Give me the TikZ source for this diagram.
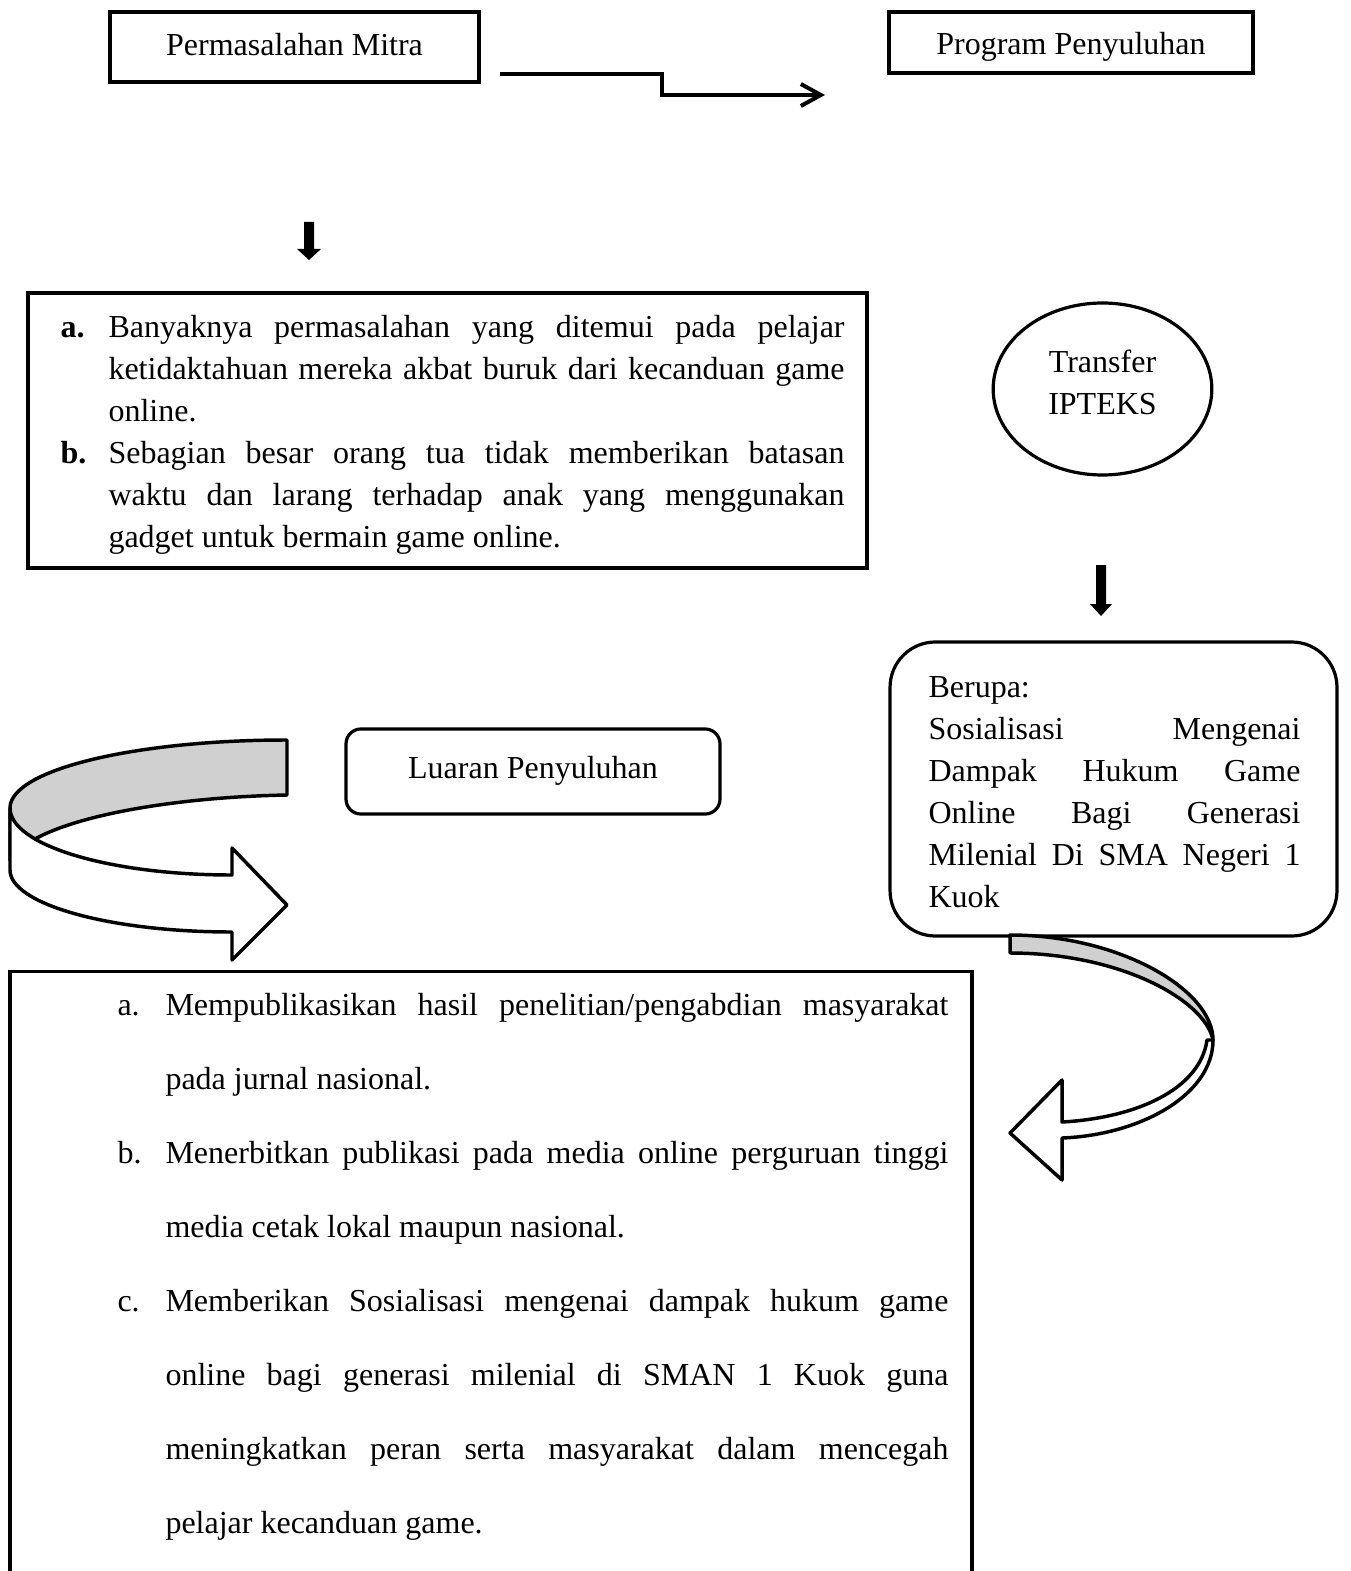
\documentclass[tikz,border=0pt]{standalone}
\usepackage{fontspec}
\setmainfont{Liberation Serif}
\usetikzlibrary{shapes.geometric,arrows.meta}
\definecolor{ribbongray}{RGB}{208,208,208}
\newcommand\myitem[1]{\par\noindent\hangindent=18pt\hangafter=1\makebox[18pt][l]{#1}}
\begin{document}
\begin{tikzpicture}[x=0.375pt,y=-0.375pt,
  every node/.style={font=\fontsize{12}{15.75}\selectfont},
  sqbox/.style={draw, line width=1.2pt, inner sep=0pt},
  rbox/.style={draw, line width=1.2pt, inner sep=0pt},
  txt/.style={inner sep=0pt},
  conn/.style={line width=1.5pt, -{Straight Barb[length=7.5pt,width=8.25pt]}},
  ribbon/.style={line width=1.3pt, line join=round}]
\clip (0,0) rectangle (1350,1571);
\fill[white] (0,0) rectangle (1350,1571);

% top boxes
\node[sqbox, minimum width=138.4pt, minimum height=26.25pt] (mitra) at (294.5,47) {};
\node[txt] (mitratxt) at (294.5,45) {Permasalahan Mitra};
\node[sqbox, minimum width=136.5pt, minimum height=22.9pt] (program) at (1071,42.5) {};
\node[txt] (programtxt) at (1071,46.5) {Program Penyuluhan};

% step connector
\coordinate (st0) at (500,74);
\coordinate (st1) at (825,95);
\draw[conn] (st0) -- (662,74) |- (st1);

% down arrow 1
\fill (304,222) -- (314,222) -- (314,249) -- (321,249) -- (309,260) -- (297,249) -- (304,249) -- cycle;

% problem box
\node[sqbox, minimum width=314.6pt, minimum height=103.1pt] (masalah) at (447.5,430.5) {};
\node[txt, anchor=base west] (masalahtxt) at (60,338) {\parbox[t]{294pt}{%
\myitem{\textbf{a.}}Banyaknya permasalahan yang ditemui pada pelajar\linebreak ketidaktahuan mereka akbat buruk dari kecanduan game\linebreak online.
\myitem{\textbf{b.}}Sebagian besar orang tua tidak memberikan batasan\linebreak waktu dan larang terhadap anak yang menggunakan\linebreak gadget untuk bermain game online.}};

% ellipse
\node[ellipse, draw, line width=1.2pt, minimum width=82pt, minimum height=64.5pt, inner sep=0pt] (ipteks) at (1102.5,389) {};
\node[txt, align=center] (ipteksTxt) at (1102.5,382) {Transfer\\IPTEKS};

% down arrow 2
\fill (1096,565) -- (1106,565) -- (1106,604) -- (1112,604) -- (1101,616) -- (1090,604) -- (1096,604) -- cycle;

% berupa box
\node[rbox, rounded corners=17pt, minimum width=167.6pt, minimum height=110.25pt] (berupa) at (1113.5,789) {};
\node[txt, anchor=base west] (berupatxt) at (928,697) {\parbox[t]{139.5pt}{Berupa:\par
Sosialisasi Mengenai\linebreak Dampak Hukum Game\linebreak Online Bagi Generasi\linebreak Milenial Di SMA Negeri 1\linebreak Kuok}};

% luaran box
\node[rbox, rounded corners=5.6pt, minimum width=140.25pt, minimum height=31.9pt] (luaran) at (533,771.5) {};
\node[txt] (luarantitle) at (533,771) {Luaran Penyuluhan};

% bottom box
\node[sqbox, anchor=north, minimum width=360.75pt, minimum height=255pt] (output) at (491,970) {};
\node[txt, anchor=base west] (outputtxt) at (117,1015) {\parbox[t]{311.6pt}{\fontsize{12}{27.75}\selectfont
\myitem{a.}Mempublikasikan hasil penelitian/pengabdian masyarakat\linebreak pada jurnal nasional.
\myitem{b.}Menerbitkan publikasi pada media online perguruan tinggi\linebreak media cetak lokal maupun nasional.
\myitem{c.}Memberikan Sosialisasi mengenai dampak hukum game\linebreak online bagi generasi milenial di SMAN 1 Kuok guna\linebreak meningkatkan peran serta masyarakat dalam mencegah\linebreak pelajar kecanduan game.}};

% left curved ribbon arrow
\filldraw[ribbon, fill=ribbongray] (287,740) .. controls (134,740) and (10,770) .. (10,808) -- (10,860) -- (35,839) .. controls (80,814) and (180,797) .. (287,795) -- cycle;
\filldraw[ribbon, fill=white] (10,808) .. controls (10,845) and (109,875) .. (232,875) -- (232,848) -- (287,905) -- (232,960) -- (232,932) .. controls (109,932) and (10,904) .. (10,870) -- cycle;

% right curved ribbon arrow
\filldraw[ribbon, fill=white] (1213,1040) .. controls (1213,1095) and (1140,1135) .. (1062,1138) -- (1062,1180) -- (1010,1133) -- (1062,1080) -- (1062,1122) .. controls (1135,1118) and (1200,1090) .. (1207,1040) -- cycle;
\filldraw[ribbon, fill=ribbongray] (1010,935) .. controls (1120,935) and (1213,990) .. (1213,1040) .. controls (1205,1000) and (1120,953) .. (1010,953) -- cycle;
\end{tikzpicture}
\end{document}
